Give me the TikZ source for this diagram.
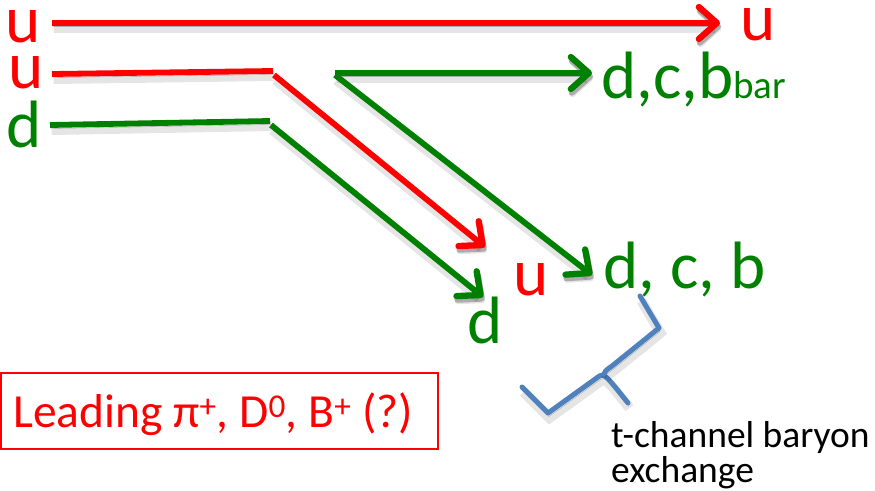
\documentclass[tikz,border=0pt]{standalone}
\usepackage{fontspec}
\setmainfont{Carlito}
\usetikzlibrary{arrows.meta}
\definecolor{qred}{RGB}{255,0,0}
\definecolor{qgreen}{RGB}{0,128,0}
\definecolor{qblue}{RGB}{79,129,189}
\tikzset{
  shade/.style={
    preaction={draw=black, draw opacity=0.10, line width=10pt, transform canvas={shift={(1.5,5)}}},
    preaction={draw=black, draw opacity=0.25, transform canvas={shift={(1,3.5)}}}},
  quark/.style={line width=5.8pt, shade},
  flow/.style={quark, -{Straight Barb[length=18pt,width=32pt,line width=6.3pt,round]}},
  big/.style={inner sep=0pt, anchor=base west, font=\fontsize{67}{67}\selectfont},
  note/.style={inner sep=0pt, anchor=base west, font=\fontsize{37.5}{40}\selectfont},
}
\begin{document}
\begin{tikzpicture}[x=1pt,y=-1pt]
\useasboundingbox (0,0) rectangle (875,490);

% quark labels
\node[big, text=qred]   (uA)  at (5,42)   {u};
\node[big, text=qred]   (uB)  at (8,88)   {u};
\node[big, text=qgreen] (dA)  at (6,147)  {d};
\node[big, text=qred]   (uOut) at (740,40) {u};
\node[big, text=qgreen] (anti) at (601,98) {d,c,b{\fontsize{39}{39}\selectfont bar}};
\node[big, text=qred]   (uLow) at (513,295) {u};
\node[big, text=qgreen] (dLow) at (467,343) {d};
\node[big, text=qgreen] (dcb)  at (603,288) {d, c, b};

% line end points
\coordinate (p1) at (52,23);   \coordinate (p2) at (720,23);
\coordinate (r1) at (52,74);   \coordinate (r2) at (273,71);
\coordinate (r3) at (274,75);  \coordinate (r4) at (485,247);
\coordinate (g1) at (50,125);  \coordinate (g2) at (270,121);
\coordinate (g3) at (271,125); \coordinate (g4) at (483,297);
\coordinate (v)  at (335,73);  \coordinate (v2) at (335,75);
\coordinate (h1) at (592,73);  \coordinate (h2) at (592,275);

% spectator u
\draw[flow, qred] (p1) -- (p2);
% incoming u and d, deflected
\draw[quark, qred] (r1) -- (r2);
\draw[flow, qred] (r3) -- (r4);
\draw[quark, qgreen] (g1) -- (g2);
\draw[flow, qgreen] (g3) -- (g4);
% produced pair
\draw[flow, qgreen] (v) -- (h1);
\draw[flow, qgreen] (v2) -- (h2);

% brace marking the exchange
\draw[qblue, line width=5pt, line join=round, line cap=round, shade]
  (522,387) -- (548,413) -- (598,377) .. controls (604,373) .. (628,403);
\draw[qblue, line width=5pt, line join=round, line cap=round, shade]
  (640,296) -- (659,328) -- (612,366) .. controls (605,371) .. (604,374);

% boxed caption
\node[inner sep=0pt, anchor=base west, text=qred, font=\fontsize{47.5}{47.5}\selectfont]
  (lead) at (13,427) {Leading π\textsuperscript{+}, D\textsuperscript{0}, B\textsuperscript{+} (?)};
\draw[qred, line width=1.5pt] (1,373) rectangle (438,449);

\node[note] (tch) at (611,447) {t-channel baryon};
\node[note] (exch) at (611,482) {exchange};
\end{tikzpicture}
\end{document}
